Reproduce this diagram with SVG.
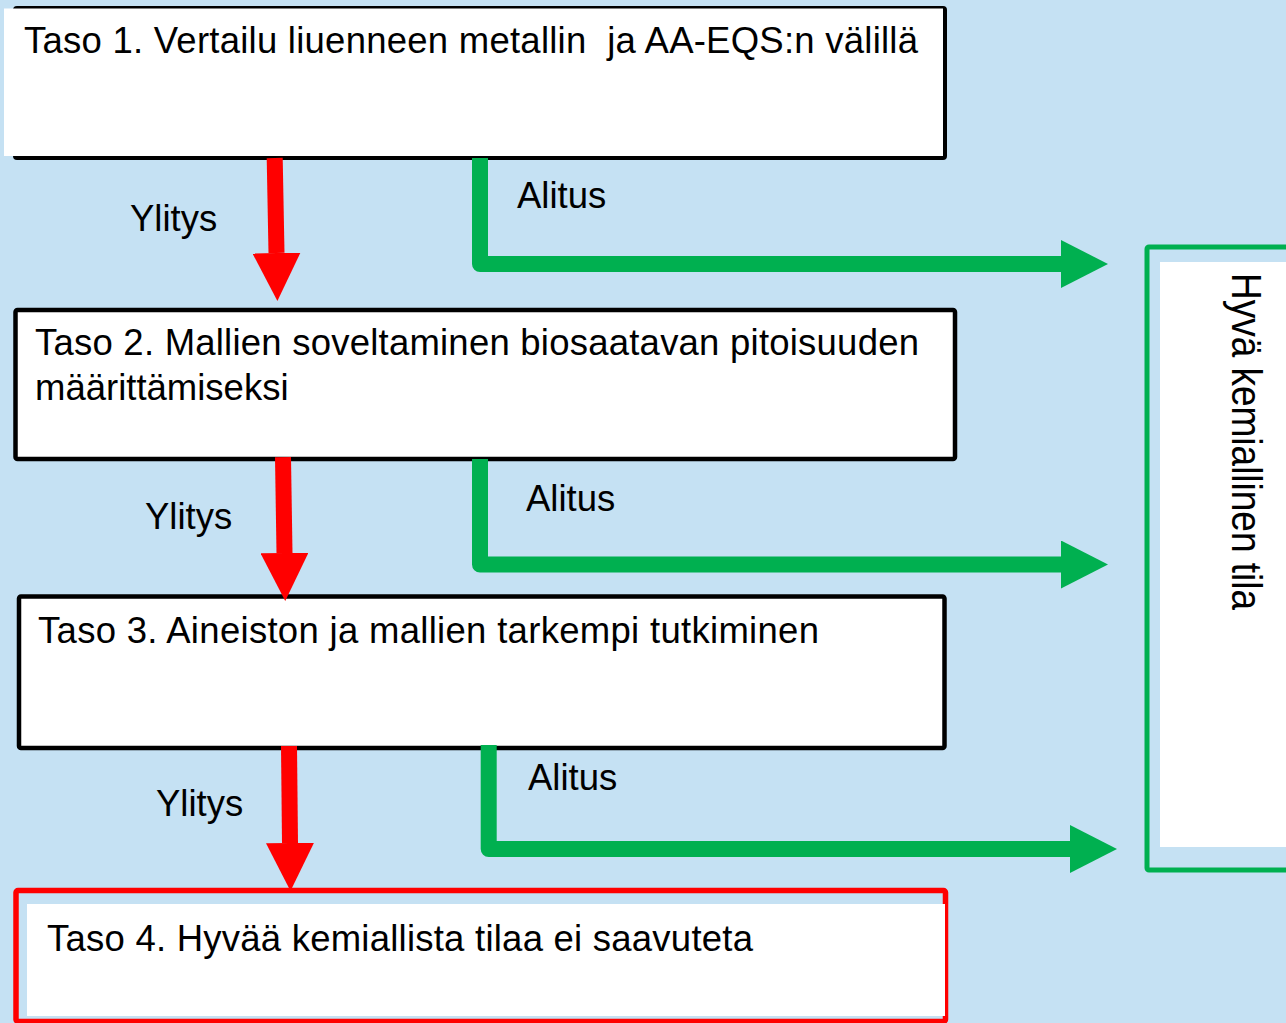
<svg xmlns="http://www.w3.org/2000/svg" width="1286" height="1023" viewBox="0 0 1286 1023">
<style>
.t{font-family:"Liberation Sans",Arial,sans-serif;font-size:36.5px;fill:#000;white-space:pre}
.box{fill:#fff;stroke:#000;stroke-width:4.5}
.red{fill:none;stroke:#FF0000;stroke-width:16}
.grn{fill:none;stroke:#00B050;stroke-width:16;stroke-linejoin:round}
</style>
<defs>
<marker id="hr" markerUnits="userSpaceOnUse" viewBox="0 0 48 48" markerWidth="48" markerHeight="48" refX="0" refY="24" orient="auto"><path d="M0,0 L48,24 L0,48 Z" fill="#FF0000"/></marker>
<marker id="hg" markerUnits="userSpaceOnUse" viewBox="0 0 47 48" markerWidth="47" markerHeight="48" refX="0" refY="24" orient="auto"><path d="M0,0 L47,24 L0,48 Z" fill="#00B050"/></marker>
</defs>
<rect x="0" y="0" width="1286" height="1023" fill="#C5E1F3"/>
<g id="taso1">
<rect x="15" y="8" width="930" height="150" rx="2" fill="none" stroke="#000" stroke-width="4"/>
<rect x="4" y="8.5" width="939" height="147.5" fill="#fff"/>
<text class="t" x="24" y="53" textLength="894" lengthAdjust="spacing">Taso 1. Vertailu liuenneen metallin  ja AA-EQS:n välillä</text>
</g>
<g id="taso2">
<rect class="box" x="15.5" y="310" width="939.5" height="149" rx="2"/>
<text class="t" x="35" y="355" textLength="884" lengthAdjust="spacing">Taso 2. Mallien soveltaminen biosaatavan pitoisuuden</text>
<text class="t" x="35" y="400">määrittämiseksi</text>
</g>
<g id="taso3">
<rect class="box" x="19" y="596.5" width="925.5" height="151.5" rx="2"/>
<text class="t" x="38" y="643" textLength="781" lengthAdjust="spacing">Taso 3. Aineiston ja mallien tarkempi tutkiminen</text>
</g>
<g id="taso4">
<rect x="16" y="890.5" width="929.5" height="131" rx="2" fill="none" stroke="#FF0000" stroke-width="5.5"/>
<rect x="27" y="904" width="918" height="112" fill="#fff"/>
<text class="t" x="47" y="951" textLength="706" lengthAdjust="spacing">Taso 4. Hyvää kemiallista tilaa ei saavuteta</text>
</g>
<g id="hyva">
<rect x="1147" y="247" width="200" height="623" rx="2" fill="none" stroke="#00B050" stroke-width="5"/>
<rect x="1160" y="262" width="130" height="585" fill="#fff"/>
<text class="t" transform="translate(1232,273) rotate(90) scale(1,1.13)" x="0" y="0" style="font-size:37px" textLength="337" lengthAdjust="spacing">Hyvä kemiallinen tila</text>
</g>
<g id="connectors">
<path class="red" d="M274.7,158 L276.5,253" marker-end="url(#hr)"/>
<path class="red" d="M283,457 L284.5,553" marker-end="url(#hr)"/>
<path class="red" d="M289,746 L290,843" marker-end="url(#hr)"/>
<path class="grn" d="M480,158 L480,264 L1061,264" marker-end="url(#hg)"/>
<path class="grn" d="M480,459 L480,564.5 L1061,564.5" marker-end="url(#hg)"/>
<path class="grn" d="M488.7,745 L488.7,849 L1070,849" marker-end="url(#hg)"/>
<text class="t" x="130" y="231">Ylitys</text>
<text class="t" x="145" y="529">Ylitys</text>
<text class="t" x="156" y="816">Ylitys</text>
<text class="t" x="517" y="208">Alitus</text>
<text class="t" x="526" y="511">Alitus</text>
<text class="t" x="528" y="790">Alitus</text>
</g>
</svg>
